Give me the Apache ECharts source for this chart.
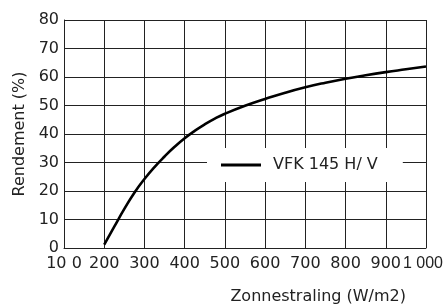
<!DOCTYPE html>
<html><head><meta charset="utf-8">
<script src="https://cdn.jsdelivr.net/npm/echarts@6/dist/echarts.min.js"></script>
<style>html,body{margin:0;padding:0;background:#fff}#c{width:446px;height:307px}</style>
</head><body><div id="c"></div>
<script>
const irradiance = [200, 225, 250, 275, 300, 325, 350, 375, 400, 425, 450, 475, 500, 550, 600, 650, 700, 750, 800, 850, 900, 950, 1000];
const efficiency = [1.2, 7.5, 13.7, 19.4, 24.2, 28.4, 32.1, 35.5, 38.5, 41.1, 43.4, 45.4, 47.1, 49.9, 52.3, 54.5, 56.4, 58.0, 59.4, 60.6, 61.7, 62.7, 63.7];
const seriesName = 'VFK 145 H/ V';
const xTickLabels = {100: '10 0', 200: '200', 300: '300', 400: '400', 500: '500', 600: '600', 700: '700', 800: '800', 900: '900', 1000: '1 000'};
const FONT = 'DejaVu Sans';
const chart = echarts.init(document.getElementById('c'), null, {renderer: 'canvas'});
chart.setOption({
  animation: false,
  backgroundColor: '#fff',
  grid: {left: 64, right: 19, top: 20, bottom: 59, containLabel: false},
  legend: {
    data: [seriesName], left: 207, top: 148, backgroundColor: '#fff',
    padding: [9, 25, 9, 14], itemWidth: 40, itemHeight: 16, itemGap: 0,
    textStyle: {fontFamily: FONT, fontSize: 16, color: '#222', padding: [0, 0, 0, 7]},
    icon: 'path://M0,6.5H40V9.5H0Z', itemStyle: {color: '#000'}
  },
  xAxis: {
    type: 'value', min: 100, max: 1000, interval: 100,
    name: 'Zonnestraling (W/m2)', nameLocation: 'end', nameGap: -20,
    nameTextStyle: {fontFamily: FONT, fontSize: 16, color: '#222', align: 'right', verticalAlign: 'top', padding: [41, 0, 0, 0]},
    axisLine: {show: true, lineStyle: {color: '#222', width: 1}},
    axisTick: {show: false},
    axisLabel: {
      margin: 8, fontFamily: FONT, fontSize: 16, color: '#222',
      showMinLabel: true, showMaxLabel: true, hideOverlap: false,
      formatter: v => v === 1000 ? '{r|' + xTickLabels[v] + '}' : xTickLabels[v],
      rich: {r: {fontFamily: 'Liberation Sans', fontSize: 16, color: '#222', padding: [0, 6, 0, 0]}}
    },
    splitLine: {show: true, lineStyle: {color: '#222', width: 1}}
  },
  yAxis: {
    type: 'value', min: 0, max: 80, interval: 10,
    name: 'Rendement (%)', nameLocation: 'middle', nameGap: 31, nameRotate: 90,
    nameTextStyle: {fontFamily: FONT, fontSize: 16, color: '#222'},
    axisLine: {show: true, lineStyle: {color: '#222', width: 1}},
    axisTick: {show: false},
    axisLabel: {margin: 5, fontFamily: FONT, fontSize: 16, color: '#222'},
    splitLine: {show: true, lineStyle: {color: '#222', width: 1}}
  },
  series: [{
    name: seriesName, type: 'line', smooth: 0.5, symbol: 'none',
    lineStyle: {color: '#000', width: 2.6},
    itemStyle: {color: '#000'},
    data: irradiance.map((x, i) => [x, efficiency[i]])
  }]
});
</script></body></html>
